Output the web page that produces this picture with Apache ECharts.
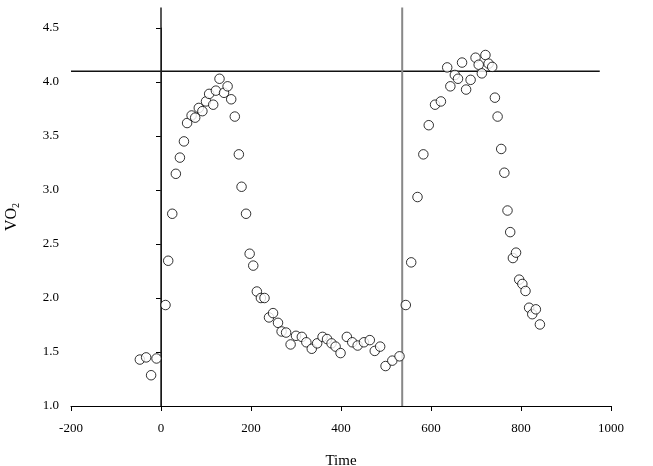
<!DOCTYPE html>
<html>
<head>
<meta charset="utf-8">
<script src="https://cdn.jsdelivr.net/npm/echarts@6/dist/echarts.min.js"></script>
<style>html,body{margin:0;padding:0;background:#fff}#c{width:653px;height:466px}</style>
</head>
<body>
<div id="c"></div>
<script>
var timeVals = [-47,-33,-22,-10,10,16,25,33,42,51,58,68,76,84,92,100,107,116,122,130,140,148,156,164,173,179,189,197,205,213,222,230,240,249,260,268,278,288,300,313,323,335,347,359,369,379,388,399,413,425,437,451,464,475,487,499,514,530,544,556,570,583,595,609,622,636,643,653,660,669,678,688,699,706,713,721,728,736,742,748,756,763,770,776,782,789,796,803,810,818,825,833,842];
var vo2Vals = [1.43,1.45,1.285,1.44,1.935,2.345,2.78,3.15,3.30,3.45,3.62,3.69,3.67,3.76,3.73,3.82,3.89,3.79,3.92,4.03,3.90,3.96,3.84,3.68,3.33,3.03,2.78,2.41,2.30,2.06,2.00,2.00,1.82,1.86,1.77,1.69,1.68,1.57,1.65,1.64,1.59,1.53,1.58,1.64,1.62,1.58,1.55,1.49,1.64,1.59,1.56,1.59,1.61,1.51,1.55,1.37,1.42,1.46,1.935,2.33,2.935,3.33,3.60,3.79,3.82,4.135,3.96,4.065,4.03,4.18,3.93,4.02,4.225,4.16,4.08,4.25,4.17,4.14,3.855,3.68,3.38,3.16,2.81,2.61,2.37,2.42,2.17,2.13,2.065,1.91,1.85,1.895,1.755];
var thresholdLine = [[-200,4.1],[975,4.1]];
var startLine = [[0,1.0],[0,4.69]];
var secondLine = [[536,1.0],[536,4.69]];
var xTicks = [-200,0,200,400,600,800,1000];
var yTicks = [1.0,1.5,2.0,2.5,3.0,3.5,4.0,4.5];

var pts = timeVals.map(function(t,i){return [t, vo2Vals[i]];});
var font = 'Liberation Serif';
var chart = echarts.init(document.getElementById('c'), null, {renderer:'canvas'});
chart.setOption({
  animation:false,
  backgroundColor:'#fff',
  grid:{left:71,right:42,top:28,bottom:60,containLabel:false,outerBoundsMode:'none'},
  xAxis:{
    type:'value', min:xTicks[0], max:xTicks[xTicks.length-1], interval:200,
    name:'Time', nameLocation:'middle', nameGap:48,
    nameTextStyle:{fontFamily:font,fontSize:15,color:'#000'},
    axisLine:{onZero:false,lineStyle:{color:'#000',width:1}},
    axisTick:{show:true,length:5,lineStyle:{color:'#000'}},
    axisLabel:{fontFamily:font,fontSize:13,color:'#000',margin:16,formatter:function(v){return String(v);}},
    splitLine:{show:false}
  },
  yAxis:{
    type:'value', min:yTicks[0], max:yTicks[yTicks.length-1], interval:0.5,
    name:'{a|VO}{b|2}', nameLocation:'middle', nameGap:50, nameRotate:90,
    nameTextStyle:{rich:{a:{fontFamily:font,fontSize:16,color:'#000'},b:{fontFamily:font,fontSize:10,color:'#000',padding:[8,0,0,0]}}},
    axisLine:{lineStyle:{color:'#000',width:1}},
    axisTick:{show:true,length:5,lineStyle:{color:'#000'}},
    axisLabel:{fontFamily:font,fontSize:13,color:'#000',margin:12,formatter:function(v){return v.toFixed(1);}},
    splitLine:{show:false}
  },
  series:[
    {type:'line',data:thresholdLine,symbol:'none',clip:false,lineStyle:{color:'#111',width:1.5},silent:true,z:1},
    {type:'line',data:startLine,symbol:'none',clip:false,lineStyle:{color:'#222',width:1.5},silent:true,z:1},
    {type:'line',data:secondLine,symbol:'none',clip:false,lineStyle:{color:'#888',width:2},silent:true,z:1},
    {type:'scatter',data:pts,symbol:'circle',symbolSize:9.5,
     itemStyle:{color:'#fff',borderColor:'#000',borderWidth:1},z:3}
  ]
});
</script>
</body>
</html>
